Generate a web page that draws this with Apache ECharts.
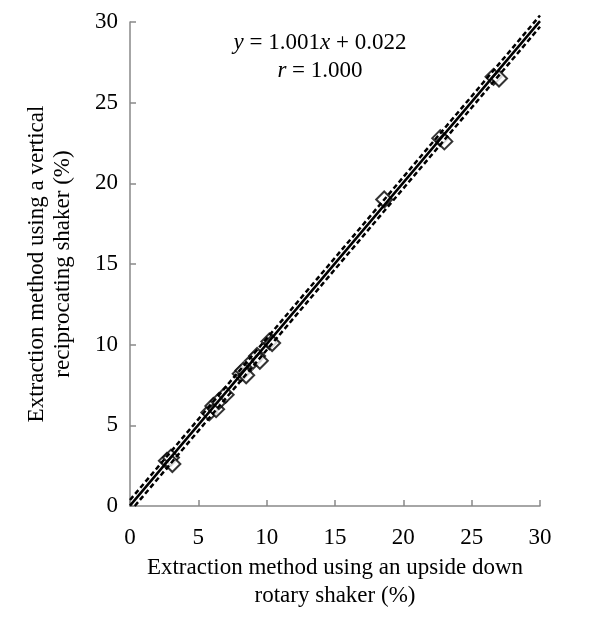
<!DOCTYPE html>
<html><head><meta charset="utf-8">
<script src="https://cdn.jsdelivr.net/npm/echarts@6/dist/echarts.min.js"></script>
<style>html,body{margin:0;padding:0;background:#fff}#c{width:600px;height:619px}</style>
</head><body><div id="c"></div>
<script>
// Upside-down rotary shaker (x) vs vertical reciprocating shaker (y), %
const xValues = [2.7, 3.0, 3.1, 5.8, 6.1, 6.3, 6.5, 7.0, 8.1, 8.3, 8.5, 9.0, 9.3, 9.5, 10.2, 10.4, 18.6, 22.7, 23.0, 26.6, 27.0];
const yValues = [2.8, 3.0, 2.6, 5.8, 6.2, 6.0, 6.5, 6.9, 8.2, 8.4, 8.1, 9.0, 9.3, 9.0, 10.2, 10.1, 19.0, 22.8, 22.6, 26.6, 26.5];
const slope = 1.001, intercept = 0.022;
const lineX = [0, 30];
const bandOffset = 0.35;
const xTicks = [0, 5, 10, 15, 20, 25, 30];
const yTicks = [0, 5, 10, 15, 20, 25, 30];

const pts = xValues.map((x, i) => [x, yValues[i]]);
const fitLine = lineX.map(x => [x, slope * x + intercept]);
const upper = lineX.map(x => [x, slope * x + intercept + bandOffset]);
const lower = [[bandOffset, 0], [30, slope * 30 + intercept - bandOffset]];

const chart = echarts.init(document.getElementById('c'));
const font = 'Liberation Serif, Times New Roman, serif';
const axisCol = '#898989';
chart.setOption({
  animation: false,
  grid: {left: 130, right: 60, top: 22, bottom: 113},
  xAxis: {
    type: 'value', min: 0, max: 30, interval: 5,
    axisLine: {lineStyle: {color: axisCol, width: 1.5}},
    axisTick: {inside: true, length: 6, lineStyle: {color: axisCol, width: 1.5}},
    splitLine: {show: false},
    axisLabel: {color: '#000', fontFamily: font, fontSize: 23, margin: 20},
    name: 'Extraction method using an upside down\nrotary shaker (%)',
    nameLocation: 'middle', nameGap: 34,
    nameTextStyle: {color: '#000', fontFamily: font, fontSize: 23, lineHeight: 28, verticalAlign: 'top'}
  },
  yAxis: {
    type: 'value', min: 0, max: 30, interval: 5,
    axisLine: {lineStyle: {color: axisCol, width: 1.5}},
    axisTick: {inside: true, length: 6, lineStyle: {color: axisCol, width: 1.5}},
    splitLine: {show: false},
    axisLabel: {color: '#000', fontFamily: font, fontSize: 23, margin: 12},
    name: 'Extraction method using a vertical\nreciprocating shaker (%)',
    nameLocation: 'middle', nameGap: 54, nameRotate: 90,
    nameTextStyle: {color: '#000', fontFamily: font, fontSize: 23, lineHeight: 26}
  },
  graphic: [{
    type: 'text', x: 320, y: 29,
    style: {
      rich: {
        i: {fontFamily: font, fontSize: 23, fontStyle: 'italic', fill: '#000'},
        n: {fontFamily: font, fontSize: 23, fill: '#000'}
      },
      text: '{i|y}{n| = 1.001}{i|x}{n| + 0.022}\n{i|r}{n| = 1.000}',
      align: 'center', verticalAlign: 'top', lineHeight: 28
    }
  }],
  series: [
    {type: 'line', data: upper, symbol: 'none', clip: false, silent: true,
     lineStyle: {color: '#000', width: 2.5, type: [5, 3]}},
    {type: 'line', data: lower, symbol: 'none', clip: false, silent: true,
     lineStyle: {color: '#000', width: 2.5, type: [5, 3]}},
    {type: 'line', data: fitLine, symbol: 'none', clip: false, silent: true,
     lineStyle: {color: '#000', width: 2.5}},
    {type: 'scatter', data: pts, symbol: 'diamond', symbolSize: 16,
     itemStyle: {color: '#fff', borderColor: '#000', borderWidth: 2}}
  ]
});
</script></body></html>
